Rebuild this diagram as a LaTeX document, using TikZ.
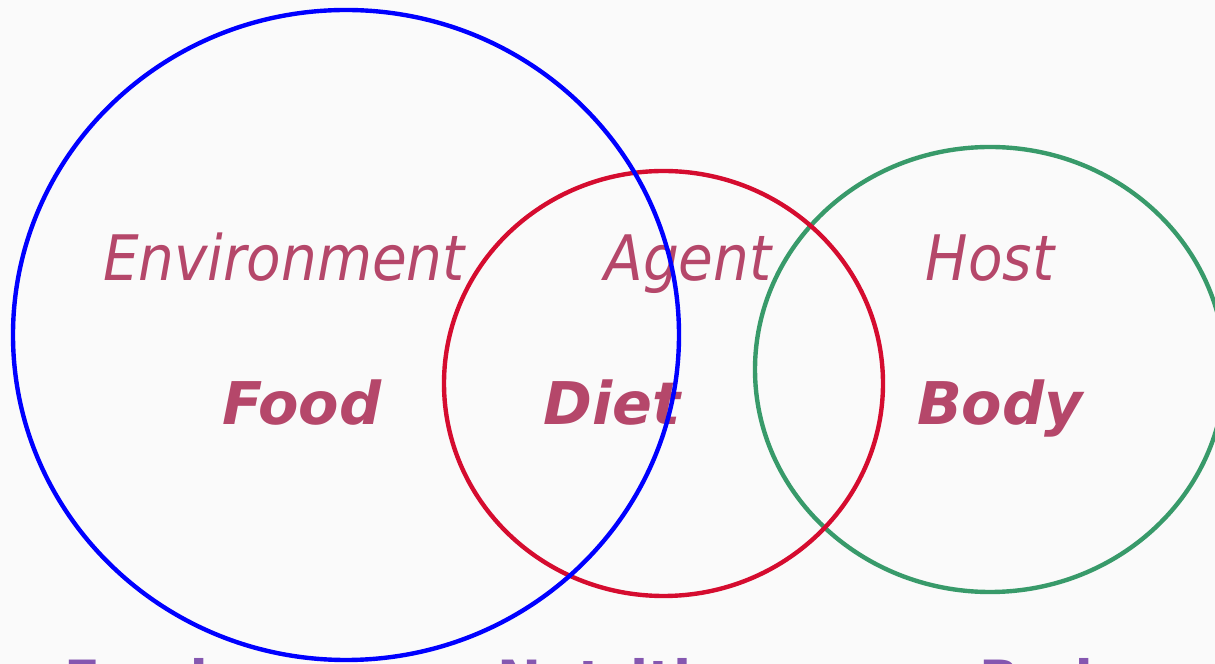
\documentclass[tikz,border=0pt]{standalone}
\usepackage{fontspec}
\setmainfont{DejaVu Sans}
\newfontfamily\condfont{DejaVu Sans Condensed}
\usetikzlibrary{shapes.geometric}
\definecolor{pagegray}{RGB}{250,250,250}
\definecolor{ringblue}{RGB}{0,0,255}
\definecolor{ringred}{RGB}{213,12,47}
\definecolor{ringgreen}{RGB}{56,154,106}
\definecolor{labelrose}{RGB}{181,71,106}
\definecolor{captionpurple}{RGB}{133,87,176}
\tikzset{
    % Outline of one of the three overlapping areas
    ring/.style={draw=#1, ellipse, line width=2.5pt, inner sep=0},
%
    % Upper, lighter label inside a ring
    role label/.style={text=labelrose, anchor=base,
        font=\condfont\itshape\fontsize{35.7}{40}\selectfont},
%
    % Lower, heavier label inside a ring
    item label/.style={text=labelrose, anchor=base,
        font=\bfseries\itshape\fontsize{33.5}{38}\selectfont},
%
    % Captions running along the bottom edge
    caption label/.style={text=captionpurple, anchor=base west,
        font=\bfseries\fontsize{30}{34}\selectfont}}

\begin{document}
\begin{tikzpicture}[x=0.2mm, y=-0.2mm]

\path [fill=pagegray] (0,0) rectangle (1215,664);
\useasboundingbox (0,0) rectangle (1215,664);
\clip (0,0) rectangle (1215,664);

\node [role label] (environment) at (284,281) {Environment};
\node [role label] (agent) at (688,281) {Agent};
\node [role label] (host) at (990,281) {Host};

\node [item label] (food) at (302,425) {Food};
\node [item label] (diet) at (612,425) {Diet};
\node [item label] (body) at (1000,425) {Body};

\node [caption label] (food caption) at (58,699) {Food};
\node [caption label] (nutrition caption) at (491,699) {Nutrition};
\node [caption label] (body caption) at (973,699) {Body};

\node [ring=ringgreen, minimum width=9.4cm, minimum height=8.9cm]
    (host ring) at (990,369.5) {};
\node [ring=ringred, minimum width=8.78cm, minimum height=8.5cm]
    (agent ring) at (663.5,383.5) {};
\node [ring=ringblue, minimum width=13.32cm, minimum height=13.0cm]
    (environment ring) at (346,335) {};

\end{tikzpicture}
\end{document}
